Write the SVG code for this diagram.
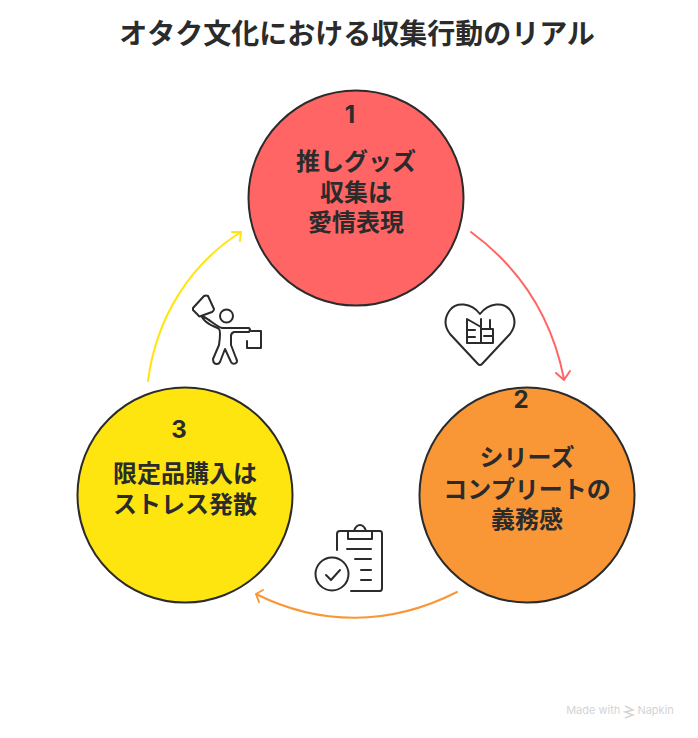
<svg xmlns="http://www.w3.org/2000/svg" width="698" height="738" viewBox="0 0 698 738">
<style>
text{font-family:"Noto Sans CJK JP","Noto Sans",sans-serif;font-weight:700;fill:#2b2b2b;text-anchor:middle}
.t{font-size:28px}
.l{font-size:24px}
.n{font-size:24px;font-family:"Inter","Liberation Sans",sans-serif}
.c{stroke:#2b2b2b;stroke-width:2}
.i{fill:none;stroke:#2b2b2b;stroke-width:2;stroke-linecap:round;stroke-linejoin:round}
.a{fill:none;stroke-width:2;stroke-linecap:round;stroke-linejoin:round}
</style>
<rect width="698" height="738" fill="#fff"/>
<text class="t" x="357" y="44">オタク文化における収集行動のリアル</text>
<g id="connectors">
<path class="a" stroke="#ff6565" d="M471 232C520 268 552 318 564 379M556 373L564 380L570 371"/>
<path class="a" stroke="#f99737" d="M457 592C390 626 320 626 256 594M263 590L256 594L259 602"/>
<path class="a" stroke="#ffe50f" d="M148 381C156 318 190 264 241 232M232 232L241 232L240 241"/>
</g>
<g id="node-1">
<circle class="c" cx="356" cy="198" r="107.500" fill="#ff6565"/>
<text class="n" x="350" y="123">1</text>
<text class="l" x="356" y="170">推しグッズ</text>
<text class="l" x="356" y="201">収集は</text>
<text class="l" x="356" y="231">愛情表現</text>
</g>
<g id="node-2">
<circle class="c" cx="527" cy="495" r="107.500" fill="#f99737"/>
<text class="n" x="521" y="408">2</text>
<text class="l" x="527" y="466">シリーズ</text>
<text class="l" x="527" y="498">コンプリートの</text>
<text class="l" x="527" y="528">義務感</text>
</g>
<g id="node-3">
<circle class="c" cx="185" cy="495" r="107.500" fill="#ffe50f"/>
<text class="n" x="179" y="438">3</text>
<text class="l" x="185" y="482">限定品購入は</text>
<text class="l" x="185" y="513">ストレス発散</text>
</g>
<g id="icon-heart">
<path class="i" d="M480 314C471 302 456 302 450 310C444 318 444 326 450 334L478 364Q480 366 482 364L510 334C516 326 516 318 510 310C504 302 489 302 480 314Z"/>
<path class="i" d="M467 343V319L481 327V343ZM467 343H493V329H481M481 319V343M490 320V329M467 330H475M467 337H475M484 336H492"/>
</g>
<g id="icon-person">
<path class="i" d="M193 308L204 296Q206 295 208 296L214 309Q214 311 212 312L201 316Q199 317 198 315L193 310Z"/>
<circle class="i" cx="226.500" cy="316" r="6.500"/>
<path class="i" d="M202 317C206 325 215 326 219 329Q221 331 219 345L213 359Q213 364 217 364Q219 364 220 362L225 349L231 362Q233 365 236 363Q238 362 236 358L231 345V336Q231 333 234 332H249Q251 330 249 328H222C216 326 210 320 204 317Q201 316 202 317Z"/>
<path class="i" d="M251 331H261V348H247V341"/>
</g>
<g id="icon-clipboard">
<path class="i" d="M337 550V534Q337 531 340 531H380Q382 531 382 534V588Q382 591 380 591H351"/>
<rect class="i" x="348" y="531" width="24" height="8"/>
<path class="i" d="M354 531Q356 525 360 525Q364 525 366 531"/>
<circle class="i" cx="332" cy="574" r="16.500"/>
<path class="i" d="M326 575L331 580L340 570M347 549H371M355 559H371M361 570H371M361 580H371"/>
</g>
<g id="watermark">
<text x="620" y="714" style="font-family:Inter,'Liberation Sans',sans-serif;font-size:11px;font-weight:400;fill:#d4d4d4">Made with <tspan dx="14">Napkin</tspan></text>
<path d="M625 706L633 710L625 712L633 715L625 718" fill="none" stroke="#d4d4d4" stroke-width="1.500"/>
</g>
</svg>
